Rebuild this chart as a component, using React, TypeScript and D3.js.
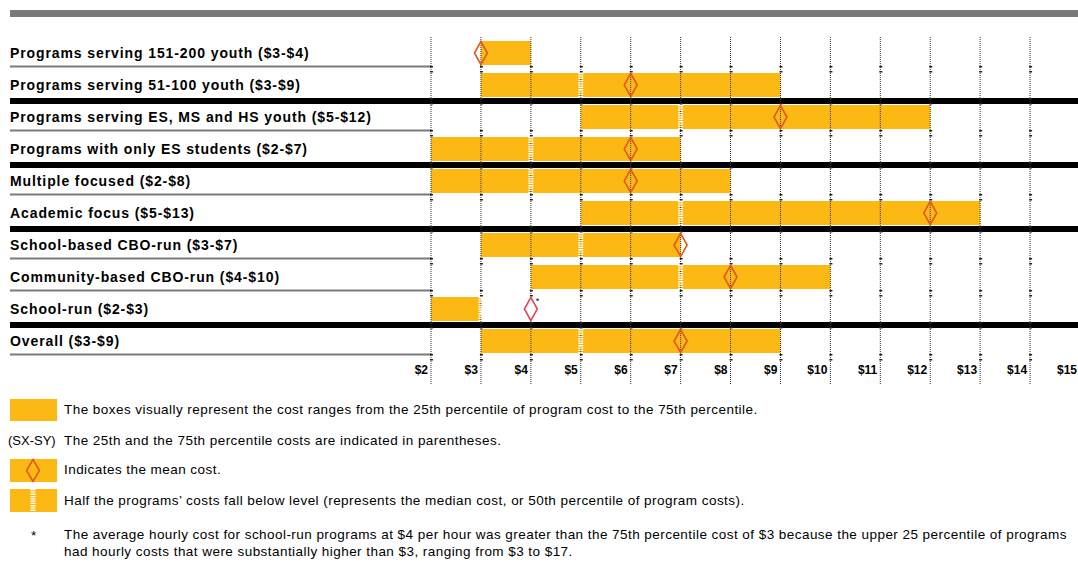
import React from "react";
import * as d3 from "d3";

const labels = [
  "Programs serving 151-200 youth ($3-$4)",
  "Programs serving 51-100 youth ($3-$9)",
  "Programs serving ES, MS and HS youth ($5-$12)",
  "Programs with only ES students ($2-$7)",
  "Multiple focused ($2-$8)",
  "Academic focus ($5-$13)",
  "School-based CBO-run ($3-$7)",
  "Community-based CBO-run ($4-$10)",
  "School-run ($2-$3)",
  "Overall ($3-$9)",
];
const p25 = [3, 3, 5, 2, 2, 5, 3, 4, 2, 3];
const p75 = [4, 9, 12, 7, 8, 13, 7, 10, 3, 9];
const medians: (number | null)[] = [null, 5, 7, 4, 4, 7, 5, 7, 3, 5];
const means = [3, 6, 9, 6, 6, 12, 7, 8, 4, 7];
// separator after each row: "thin" grey or "thick" black
const separators = ["thin", "thick", "thin", "thick", "thin", "thick", "thin", "thin", "thick", "thin"];
const ticks = d3.range(2, 16);

const legendTexts = [
  "The boxes visually represent the cost ranges from the 25th percentile of program cost to the 75th percentile.",
  "The 25th and the 75th percentile costs are indicated in parentheses.",
  "Indicates the mean cost.",
  "Half the programs\u2019 costs fall below level (represents the median cost, or 50th percentile of program costs).",
];
const footnote = [
  "The average hourly cost for school-run programs at $4 per hour was greater than the 75th percentile cost of $3 because the upper 25 percentile of programs",
  "had hourly costs that were substantially higher than $3, ranging from $3 to $17.",
];

const W = 1078;
const H = 570;
const BAR = "#FDB913";
const DIA = "#DF5A1E";
const FONT = "'Liberation Sans', Arial, sans-serif";

export default function App() {
  const x = d3.scaleLinear().domain([2, 15]).range([431, 1080]);
  const y = d3.scaleLinear().domain([0, labels.length]).range([41, 41 + 32 * labels.length]);
  const barH = 24;

  const diamond = (cx: number, cy: number, w: number, h: number) =>
    `M${cx},${cy - h / 2}L${cx + w / 2},${cy}L${cx},${cy + h / 2}L${cx - w / 2},${cy}Z`;

  const legendStyle = { fontSize: 13.5, letterSpacing: 0.45 } as const;

  return (
    <svg width={W} height={H} style={{ position: "absolute", left: 0, top: 0, background: "#fff" }} fontFamily={FONT}>
      {/* top grey rule */}
      <rect x={10} y={10} width={W - 10} height={7} fill="#7a7a7a" />

      {/* bars */}
      {labels.map((_, i) => (
        <rect key={"b" + i} x={x(p25[i])} y={y(i)} width={x(p75[i]) - x(p25[i])} height={barH} fill={BAR} />
      ))}

      {/* separators */}
      {separators.map((s, i) => {
        const gy = y(i) + barH;
        return s === "thick" ? (
          <rect key={"s" + i} x={10} y={gy + 1} width={W - 10} height={6} fill="#000" />
        ) : (
          <line key={"s" + i} x1={10} x2={x(2)} y1={gy + 1.5} y2={gy + 1.5} stroke="#7a7a7a" strokeWidth={2} />
        );
      })}

      {/* grid */}
      {ticks.map((t) => (
        <line key={"g" + t} x1={x(t)} x2={x(t)} y1={37} y2={384} stroke="#333" strokeWidth={1} strokeDasharray="1,1" />
      ))}
      {/* small row ticks on grid */}
      {ticks.map((t) =>
        separators.map((s, i) => {
          const gy = y(i) + barH;
          return (
            <g key={"t" + t + "-" + i}>
              <rect x={x(t) - 1} y={gy + 1} width={3} height={1.5} fill="#222" />
              <rect x={x(t) - 1} y={gy + 6} width={3} height={1.5} fill="#222" />
            </g>
          );
        })
      )}

      {/* medians */}
      {medians.map((m, i) =>
        m === null ? null : (
          <line key={"m" + i} x1={x(m)} x2={x(m)} y1={y(i)} y2={y(i) + barH} stroke="#fff" strokeWidth={5} strokeDasharray="1.3,1" opacity={1} />
        )
      )}

      {/* means */}
      {means.map((m, i) => {
        const inside = m >= p25[i] && m <= p75[i];
        return (
          <path
            key={"d" + i}
            d={diamond(x(m), y(i) + barH / 2, 13, 23)}
            fill={inside ? "none" : "#fff"}
            stroke={inside ? DIA : "#E04A5A"}
            strokeWidth={1.6}
          />
        );
      })}
      <text x={x(4) + 5} y={y(8) + 7} fontSize={9} fill="#000">*</text>

      {/* row labels */}
      {labels.map((l, i) => (
        <text key={"l" + i} x={10} y={y(i) + barH / 2 + 4.5} fontSize={14} letterSpacing={0.9} fontWeight="bold" fill="#000">
          {l}
        </text>
      ))}

      {/* tick labels */}
      {ticks.map((t) => (
        <text key={"tl" + t} x={x(t) - 3} y={374} fontSize={12} fontWeight="bold" textAnchor="end" fill="#000">
          {"$" + t}
        </text>
      ))}

      {/* legend */}
      <rect x={10} y={399} width={47} height={22} fill={BAR} />
      <text x={64} y={414} {...legendStyle} fill="#000">{legendTexts[0]}</text>
      <text x={8} y={445} fontSize={13} fill="#000">(SX-SY)</text>
      <text x={64} y={445} {...legendStyle} fill="#000">{legendTexts[1]}</text>
      <rect x={10} y={459} width={47} height={23} fill={BAR} />
      <path d={diamond(33, 470.5, 13, 22)} fill="none" stroke={DIA} strokeWidth={1.6} />
      <text x={64} y={474} {...legendStyle} fill="#000">{legendTexts[2]}</text>
      <rect x={10} y={489} width={47} height={23} fill={BAR} />
      <line x1={33} x2={33} y1={489} y2={512} stroke="#fff" strokeWidth={5} strokeDasharray="1.3,1" />
      <text x={64} y={505} {...legendStyle} fill="#000">{legendTexts[3]}</text>
      <text x={31} y={540} {...legendStyle} fill="#000">*</text>
      <text x={64} y={539} {...legendStyle} fill="#000">{footnote[0]}</text>
      <text x={64} y={556} {...legendStyle} fill="#000">{footnote[1]}</text>
    </svg>
  );
}
